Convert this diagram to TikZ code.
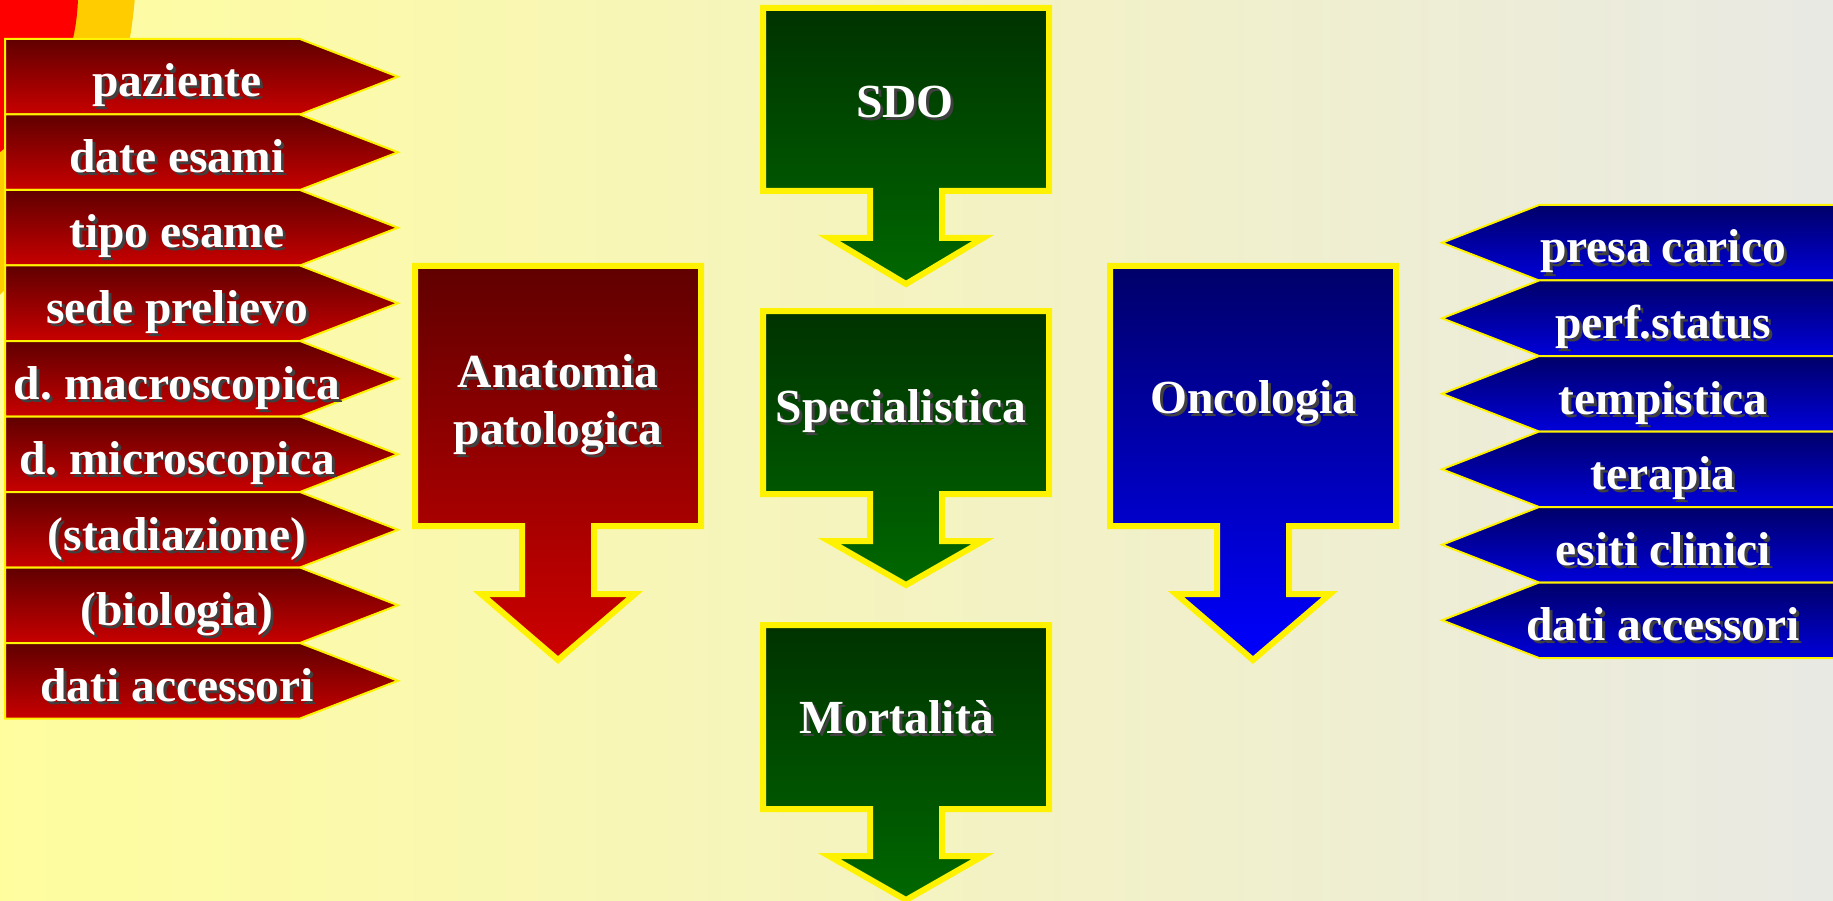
\documentclass[tikz,border=0pt]{standalone}
\usepackage{fontspec}
\setmainfont{Liberation Serif}
\usepackage{xcolor}
\usetikzlibrary{calc}
\frenchspacing

\definecolor{bgleft}{RGB}{255,253,158}
\definecolor{bgright}{RGB}{233,233,228}
\definecolor{gold}{RGB}{255,204,0}
\definecolor{redtop}{RGB}{96,0,0}
\definecolor{redbot}{RGB}{206,0,0}
\definecolor{redtagbot}{RGB}{200,0,0}
\definecolor{grntop}{RGB}{0,50,0}
\definecolor{grnbot}{RGB}{0,104,0}
\definecolor{blutop}{RGB}{0,0,105}
\definecolor{blubot}{RGB}{0,0,255}
\definecolor{blutagbot}{RGB}{0,0,218}

% white text with a dark drop shadow
\newcommand\shtxt[1]{\rlap{\kern3pt\raisebox{-3pt}{\textcolor{black!75}{#1}}}#1}

% box with a down arrow: centre x, top, box bottom, wing y, tip y, fill style
\newcommand\blockarr[6]{%
  \path[blk,#6] (#1-143,#2) -- (#1+143,#2) -- (#1+143,#3) -- (#1+36,#3) -- (#1+36,#4)
    -- (#1+77,#4) -- (#1,#5) -- (#1-77,#4) -- (#1-36,#4) -- (#1-36,#3) -- (#1-143,#3) -- cycle;}

\begin{document}
\begin{tikzpicture} [
       x=1pt, y=-1pt,
       blk/.style={draw=yellow, line width=6pt, line join=miter, miter limit=10},
       redsh/.style={top color=redtop, bottom color=redbot},
       grnsh/.style={top color=grntop, bottom color=grnbot},
       blush/.style={top color=blutop, bottom color=blubot},
       tagl/.style={draw=yellow, line width=2pt, top color=redtop, bottom color=redtagbot},
       tagr/.style={draw=yellow, line width=2pt, top color=blutop, bottom color=blutagbot},
       txt/.style={text=white, font=\bfseries\fontsize{47.5}{57}\selectfont,
               inner sep=0pt, anchor=base, align=center},
       ]
       \useasboundingbox (0,0) rectangle (1833,901);
       \fill[left color=bgleft, right color=bgright] (0,0) rectangle (1833,901);
       \fill[gold] (-347,-42) circle (483.5pt);
       \fill[red] (-121,-6) circle (199pt);

       % left tags
       \foreach \t [count=\i] in {paziente, date esami, tipo esame, sede prelievo,
               d. macroscopica, d. microscopica, (stadiazione), (biologia), dati accessori} {
         \pgfmathsetmacro\ya{39+75.5*(\i-1)}
         \path[tagl] (5,\ya) -- (300,\ya) -- (398,\ya+37.75) -- (300,\ya+75.5) -- (5,\ya+75.5) -- cycle;
         \node[txt] (l\i) at (177,\ya+58) {\shtxt{\t}};
       }

       % right tags
       \foreach \t [count=\i] in {presa carico, perf.status, tempistica, terapia,
               esiti clinici, dati accessori} {
         \pgfmathsetmacro\ya{205+75.5*(\i-1)}
         \path[tagr] (1845,\ya) -- (1539,\ya) -- (1442,\ya+37.75) -- (1539,\ya+75.5) -- (1845,\ya+75.5) -- cycle;
         \node[txt] (r\i) at (1663,\ya+58) {\shtxt{\t}};
       }

       \blockarr{558}{266}{526}{594}{660}{redsh}
       \blockarr{1253}{266}{526}{594}{660}{blush}
       \blockarr{906}{8}{191}{238}{284}{grnsh}
       \blockarr{906}{311}{494}{541}{585}{grnsh}
       \blockarr{906}{625}{809}{856}{900}{grnsh}

       \node[txt, anchor=north] (anat) at (558,354) {\shtxt{Anatomia}\\\shtxt{patologica}};
       \node[txt] (onco) at (1253,413) {\shtxt{Oncologia}};
       \node[txt] (sdo) at (905,118) {\shtxt{SDO}};
       \node[txt] (spec) at (901,422) {\shtxt{Specialistica}};
       \node[txt] (mort) at (897,733) {\shtxt{Mortalità}};
\end{tikzpicture}
\end{document}
